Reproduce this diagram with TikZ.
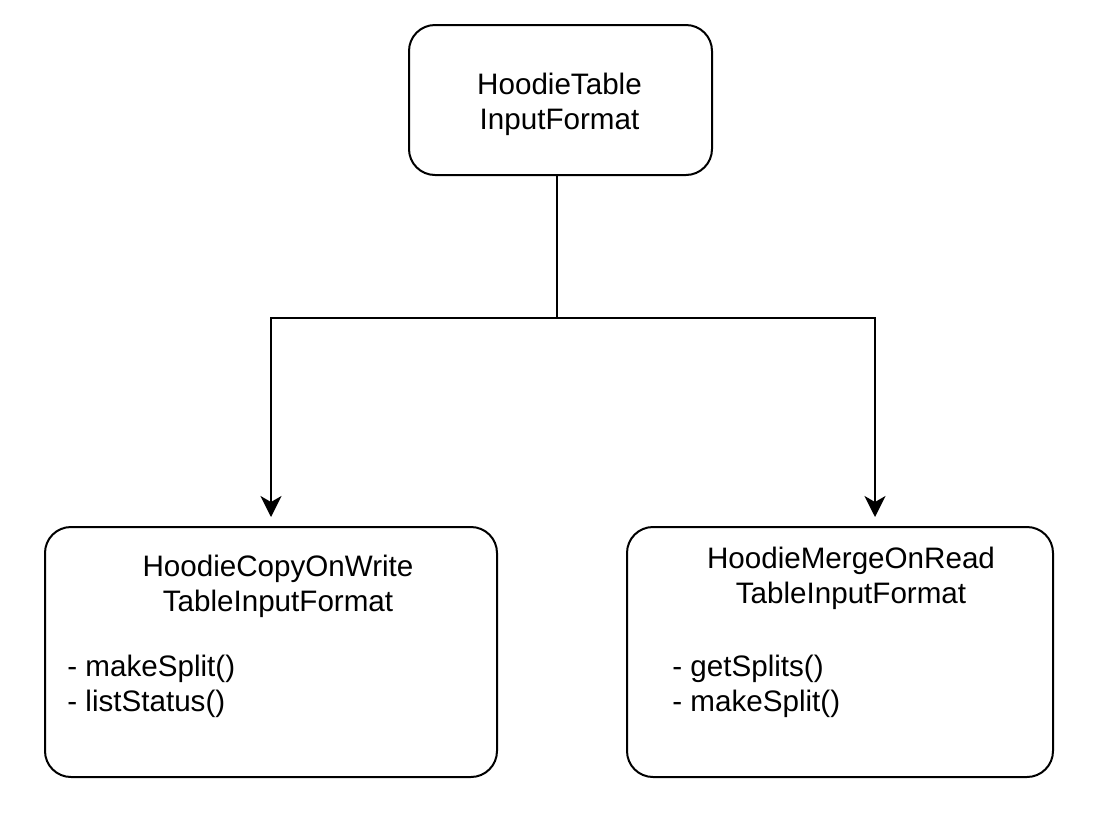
\documentclass[tikz,border=0pt]{standalone}
\usepackage{fontspec}
\setmainfont{Liberation Sans}
\usetikzlibrary{arrows.meta}

\tikzset{
  classbox/.style={draw, line width=1pt, rounded corners=13pt, inner sep=0pt},
  classtext/.style={inner sep=0pt, font=\fontsize{14.8}{17.5}\selectfont},
  link/.style={line width=1pt},
}

\begin{document}
\begin{tikzpicture}[x=0.5pt,y=-0.5pt]
\useasboundingbox (0,0) rectangle (1104,820);
% boxes
\node[classbox, minimum width=151.5pt, minimum height=75pt] (InputFormat) at (560.5,100) {};
\node[classbox, minimum width=226pt, minimum height=125pt] (CopyOnWrite) at (271,652) {};
\node[classbox, minimum width=213pt, minimum height=125pt] (MergeOnRead) at (840,652) {};
% texts
\node[classtext, align=center, anchor=north] (InputFormatName) at (559.5,73) {HoodieTable\\InputFormat};
\node[classtext, align=center, anchor=north] (CopyOnWriteName) at (278,555) {HoodieCopyOnWrite\\TableInputFormat};
\node[classtext, align=left, anchor=north west] (CopyOnWriteList) at (67,655) {- makeSplit()\\- listStatus()};
\node[classtext, align=center, anchor=north] (MergeOnReadName) at (851,547) {HoodieMergeOnRead\\TableInputFormat};
\node[classtext, align=left, anchor=north west] (MergeOnReadList) at (672,655) {- getSplits()\\- makeSplit()};
% connectors
\coordinate (Split) at (557,318);
\draw[link] (InputFormat.south -| Split) -- (Split);
\draw[link, -{Stealth[length=10.5pt,width=10.5pt,inset=3pt]}, shorten >=4.5pt] (Split) -| (CopyOnWrite.north);
\draw[link, -{Stealth[length=10.5pt,width=10.5pt,inset=3pt]}, shorten >=4.5pt] (Split) -| ([xshift=17.5pt]MergeOnRead.north);
\end{tikzpicture}
\end{document}
